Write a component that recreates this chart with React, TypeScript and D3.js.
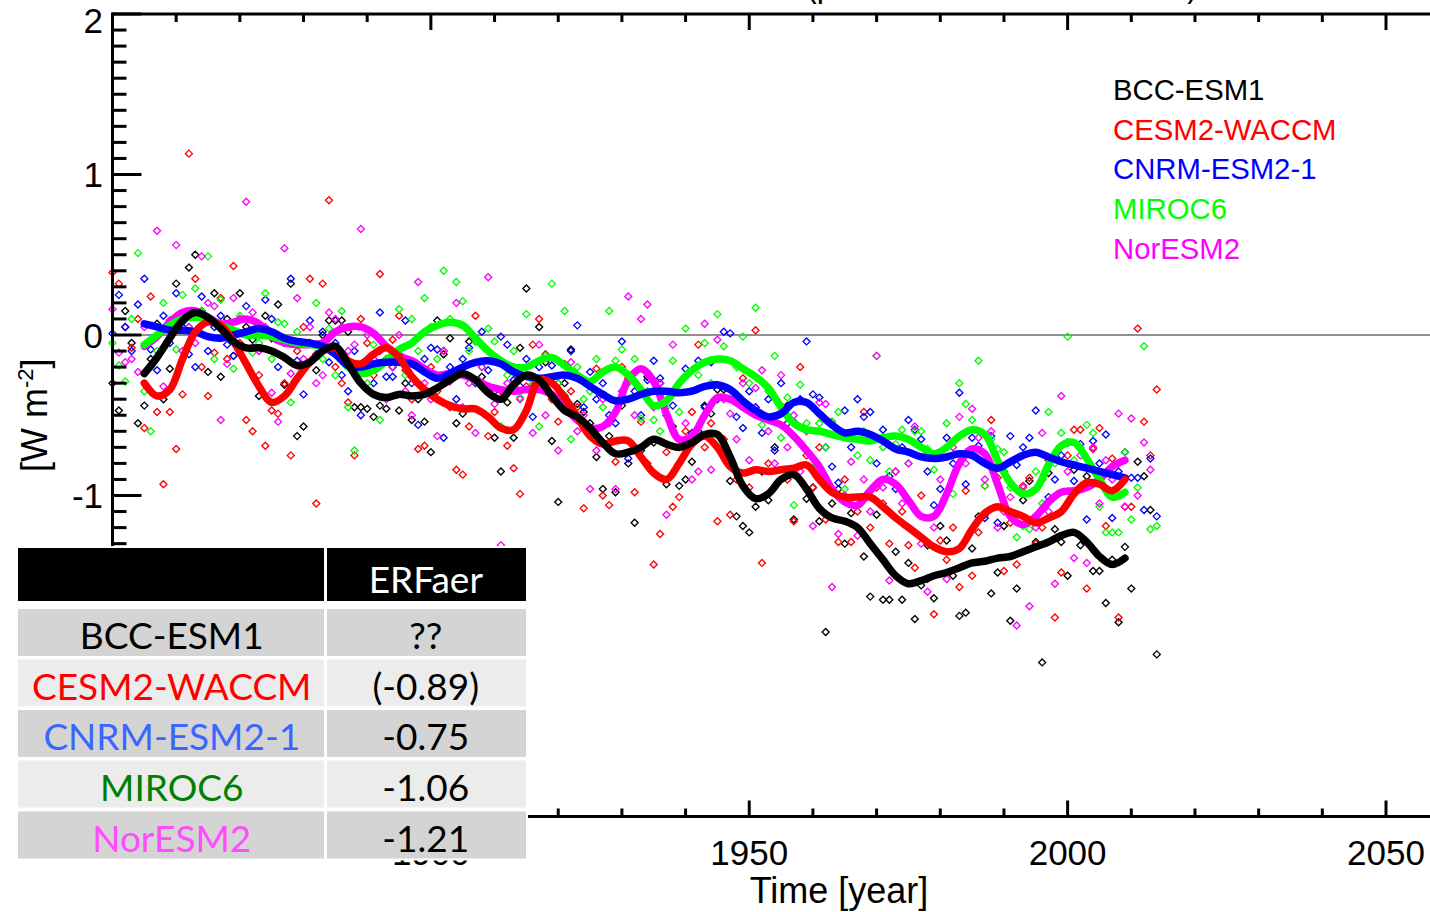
import React from "react";
import * as d3 from "d3";

const W = 1430;
const H = 912;

// Models, their plot colours and the ERFaer table
const modelNames = ["BCC-ESM1", "CESM2-WACCM", "CNRM-ESM2-1", "MIROC6", "NorESM2"];
const lineColors = ["#000000", "#ff0000", "#0000ff", "#00ff00", "#ff00ff"];
const tableTextColors = ["#000000", "#ff0000", "#3a66ff", "#008000", "#ff4cff"];
const erfaerLabels = ["??", "(-0.89)", "-0.75", "-1.06", "-1.21"];

// Annual values, 1850 .. 2014 (W m-2)
const annualStartYear = 1850;
const bccAnnual = [
  -0.30, -0.47, 0.15, -0.05, -0.55, -0.44, -0.15, 0.07, -0.40, -0.21,
  0.32, 0.05, 0.42, 0.50, 0.15, -0.23, 0.26, -0.26, 0.10, -0.13,
  0.26, 0.05, -0.03, -0.38, 0.12, -0.02, 0.19, -0.31, 0.32, -0.63,
  -0.57, -0.05, -0.22, 0.00, 0.09, 0.09, 0.09, 0.02, -0.45, -0.45,
  -0.46, -0.51, -0.44, -0.46, -0.20, -0.47, -0.30, -0.53, -0.40, -0.54,
  -0.73, 0.09, -0.12, -0.02, -0.55, -0.49, -0.04, -0.04, -0.26, -0.35,
  -0.64, -0.85, -0.42, -0.64, -0.08, 0.29, -0.32, 0.05, -0.17, -0.66,
  -1.04, -0.30, -0.09, -0.43, -0.48, -0.55, -0.76, -0.96, -0.63, -0.98,
  -0.44, -0.80, -1.17, -0.72, -0.26, -0.67, -0.30, -0.93, -0.57, -0.94,
  -0.90, -0.79, -0.60, -0.44, -0.49, -0.34, -0.34, -0.91, -1.13, -1.19,
  -1.23, -1.07, -0.85, -1.03, -0.70, -0.49, -0.44, -1.15, -0.41, -1.02,
  -0.95, -1.16, -1.85, -1.05, -0.96, -1.30, -1.11, -1.20, -1.38, -1.63,
  -1.12, -1.65, -1.65, -1.35, -1.65, -1.42, -1.77, -1.56, -1.31, -1.64,
  -1.19, -1.28, -1.50, -1.75, -1.73, -1.33, -1.13, -1.12, -1.61, -1.48,
  -1.19, -1.78, -1.58, -1.03, -0.91, -1.29, -2.04, -0.86, -1.21, -1.29,
  -1.50, -0.84, -1.31, -0.88, -1.47, -1.47, -1.67, -1.40, -1.79, -1.32,
  -1.58, -0.79, -0.88, -1.09, -1.99,
];
const cesmAnnual = [
  0.39, 0.32, 0.05, -0.08, 0.10, -0.58, 0.24, -0.48, -0.93, -0.48,
  -0.71, -0.37, 1.13, 0.35, -0.20, -0.38, -0.11, 0.23, -0.15, 0.43,
  -0.05, -0.53, -0.60, -0.25, -0.69, -0.47, -0.49, -0.30, -0.75, -0.10,
  0.05, 0.35, -1.05, 0.32, 0.84, -0.20, -0.30, -0.42, -0.75, 0.10,
  -0.05, -0.25, 0.38, -0.15, -0.03, 0.12, -0.22, -0.40, -0.71, -0.69,
  -0.20, -0.35, -0.10, -0.45, -0.84, -0.87, -0.57, 0.12, -0.30, -0.63,
  -0.48, -0.35, -0.69, -0.83, -0.99, -0.32, -0.06, 0.10, -0.12, -0.40,
  -0.54, -0.18, -0.35, -0.45, -1.08, -0.60, -0.21, -1.00, -1.06, -0.79,
  -0.20, -0.27, -0.98, -0.54, -0.80, -1.43, -1.24, -0.73, -1.07, -1.01,
  -0.60, -0.48, -0.06, -0.70, -0.55, -1.16, -0.65, -1.12, -0.90, -0.27,
  -0.95, 0.03, -1.42, -0.80, -0.95, -0.44, -0.90, -1.16, -0.20, -0.75,
  -0.95, -0.70, -1.15, -0.54, -1.29, -0.90, -1.29, -1.10, -0.48, -1.20,
  -0.95, -1.05, -1.30, -0.85, -1.10, -1.31, -1.45, -1.00, -1.52, -1.74,
  -1.28, -1.40, -1.20, -1.57, -0.97, -1.50, -1.23, -0.94, -0.53, -0.89,
  -1.47, -1.17, -1.43, -0.94, -0.89, -1.30, -1.20, -0.78, -1.76, -1.48,
  -0.75, -0.59, -0.59, -1.58, -0.71, -0.58, -1.19, -0.77, -1.76, -1.07,
  -1.07, 0.04, -0.54, -0.75, -0.34,
];
const cnrmAnnual = [
  0.01, 0.25, 0.05, -0.10, 0.19, 0.35, -0.09, -0.22, 0.12, -0.05,
  0.26, 0.08, -0.12, -0.20, 0.24, -0.10, 0.05, 0.12, -0.06, -0.13,
  0.10, 0.18, -0.08, 0.03, 0.22, 0.10, -0.20, -0.05, 0.35, -0.16,
  -0.37, 0.09, -0.12, 0.02, -0.17, -0.05, -0.25, -0.35, -0.10, -0.50,
  -0.20, -0.30, 0.14, -0.26, -0.26, -0.12, 0.09, -0.30, -0.56, -0.15,
  -0.08, -0.09, -0.64, -0.20, -0.40, -0.15, -0.08, -0.30, 0.02, -0.22,
  -0.35, -0.01, -0.06, -0.28, -0.32, -0.15, -0.51, -0.20, -0.35, -0.19,
  -0.30, -0.38, -0.10, 0.06, -0.45, -0.23, -0.40, -0.30, -0.50, -0.55,
  -0.04, -0.77, -0.35, -0.50, -0.28, -0.16, -0.27, -0.50, -0.44, -0.30,
  -0.21, -0.61, -0.16, -0.45, -0.17, -0.40, 0.02, 0.01, -0.51, -0.58,
  -0.35, -0.45, -0.61, -0.40, -0.72, -0.30, -0.55, -0.54, -0.40, -0.04,
  -0.37, -0.39, -0.70, -0.82, -0.92, -0.47, -0.70, -0.40, -0.51, -0.48,
  -0.80, -0.59, -0.88, -0.96, -0.70, -0.53, -0.59, -0.65, -0.85, -1.06,
  -0.96, -0.64, -0.80, -0.36, -0.93, -0.64, -0.69, -1.14, -0.63, -1.17,
  -0.85, -0.63, -0.81, -0.70, -0.64, -0.47, -0.90, -1.01, -0.90, -0.75,
  -0.67, -0.91, -0.68, -1.15, -0.66, -0.80, -0.62, -1.14, -0.85, -0.73,
  -0.89, -0.89, -1.09, -0.77, -1.13,
];
const mirocAnnual = [
  -0.05, -0.19, -0.29, 0.10, 0.51, -0.35, -0.60, -0.10, 0.20, 0.09,
  -0.09, 0.25, 0.05, 0.29, 0.15, 0.49, -0.15, 0.22, 0.05, -0.21,
  0.12, 0.02, -0.11, -0.05, 0.26, -0.15, 0.08, 0.07, -0.42, 0.02,
  -0.20, -0.05, 0.20, -0.15, 0.04, -0.25, 0.15, -0.45, -0.72, -0.20,
  -0.30, -0.06, -0.53, -0.15, -0.20, 0.16, -0.25, 0.10, -0.10, 0.23,
  0.05, -0.15, 0.40, 0.10, 0.33, 0.21, -0.10, -0.04, -0.20, 0.04,
  -0.04, -0.57, -0.25, -0.10, -0.39, 0.13, -0.30, -0.57, -0.13, 0.32,
  -0.30, 0.15, -0.65, -0.20, -0.40, -0.35, -0.15, -0.45, 0.15, -0.16,
  -0.09, -0.30, -0.15, -0.52, -0.35, -0.53, -0.60, -0.45, -0.16, -0.48,
  0.04, -0.35, -0.25, -0.05, -0.30, 0.13, -0.07, -0.40, -0.20, -0.01,
  -0.30, 0.17, -0.56, -0.35, -0.13, -0.64, -0.39, -1.06, -0.31, -0.55,
  -0.83, -0.55, -0.70, -0.54, -0.48, -0.96, -0.62, -0.75, -0.60, -0.78,
  -0.13, -0.70, -0.85, -0.68, -0.59, -0.80, -0.60, -0.60, -0.71, -0.84,
  -1.08, -0.55, -0.99, -0.30, -0.43, -0.53, -0.16, -0.94, -0.65, -0.71,
  -0.73, -0.95, -1.26, -1.19, -1.21, -0.85, -1.05, -0.48, -0.80, -0.61,
  -0.01, -0.78, -0.70, -0.56, -0.61, -1.07, -1.23, -1.23, -1.23, -0.73,
  -1.15, -0.95, -0.07, -1.21, -1.19,
];
const norAnnual = [
  0.16, -0.11, -0.17, -0.15, -0.23, 0.05, -0.20, 0.65, -0.32, 0.09,
  0.56, -0.10, 0.05, -0.05, 0.49, 0.20, 0.18, -0.53, -0.18, 0.23,
  0.10, 0.83, 0.14, -0.10, 0.05, -0.36, -0.54, 0.54, -0.24, 0.23,
  -0.15, 0.05, -0.30, -0.25, 0.14, 0.10, 0.05, -0.10, -0.06, 0.66,
  0.00, -0.15, -0.10, -0.40, -0.20, 0.00, -0.35, -0.50, 0.33, -0.30,
  -0.40, -0.63, -0.10, -0.29, 0.20, -0.45, -0.30, -0.61, -0.20, 0.36,
  -0.43, -1.31, -0.30, -0.20, -0.40, -0.25, -0.61, -0.06, -0.50, -0.30,
  -0.72, -0.40, -0.17, -0.60, -0.50, -0.96, -0.72, -0.40, -0.55, -0.96,
  -0.35, 0.24, -0.50, 0.10, 0.19, -0.45, -0.30, -1.12, -0.06, -0.70,
  -0.55, -0.90, -0.85, 0.07, -0.84, -0.03, -0.40, -0.49, -0.65, -0.30,
  -0.78, -0.33, -0.22, -0.60, -0.80, -0.25, -0.70, -0.50, -0.85, -0.60,
  -1.19, -0.42, -0.43, -1.57, -1.24, -1.00, -0.79, -1.25, -0.90, -1.10,
  -0.13, -0.95, -1.53, -0.85, -1.05, -0.80, -0.57, -1.30, -1.60, -1.20,
  -0.90, -1.52, -0.70, -0.51, -0.80, -0.46, -0.64, -0.90, -0.60, -1.20,
  -1.10, -1.01, -1.81, -0.95, -1.69, -1.20, -0.61, -1.10, -1.55, -0.38,
  -0.85, -1.39, -0.75, -1.42, -0.70, -1.05, -0.78, -0.90, -0.49, -1.07,
  -0.52, -1.00, -0.67, -0.84, null,
];

// Running-mean curves, sampled every 2 years from 1855 to 2009
const smoothStartYear = 1855;
const smoothStep = 2;
const bccSmooth = [
  -0.24, -0.14, -0.02, 0.09, 0.14, 0.11, 0.04, -0.04, -0.08, -0.08,
  -0.10, -0.14, -0.19, -0.17, -0.10, -0.07, -0.18, -0.30, -0.37, -0.39,
  -0.37, -0.38, -0.37, -0.33, -0.28, -0.24, -0.28, -0.36, -0.40, -0.31,
  -0.25, -0.28, -0.38, -0.47, -0.51, -0.58, -0.67, -0.74, -0.73, -0.70,
  -0.65, -0.68, -0.70, -0.67, -0.62, -0.62, -0.76, -0.94, -1.02, -0.99,
  -0.90, -0.87, -0.96, -1.08, -1.14, -1.16, -1.20, -1.30, -1.40, -1.50,
  -1.55, -1.53, -1.50, -1.48, -1.45, -1.42, -1.41, -1.39, -1.38, -1.35,
  -1.32, -1.29, -1.25, -1.23, -1.29, -1.38, -1.43, -1.39,
];
const cesmSmooth = [
  -0.30, -0.38, -0.34, -0.15, 0.02, 0.08, 0.06, -0.04, -0.18, -0.32,
  -0.42, -0.38, -0.27, -0.17, -0.10, -0.08, -0.16, -0.18, -0.12, -0.08,
  -0.14, -0.26, -0.34, -0.40, -0.44, -0.46, -0.46, -0.51, -0.58, -0.59,
  -0.47, -0.28, -0.30, -0.39, -0.51, -0.63, -0.68, -0.66, -0.66, -0.76,
  -0.86, -0.90, -0.80, -0.68, -0.63, -0.70, -0.82, -0.86, -0.84, -0.85,
  -0.84, -0.83, -0.81, -0.90, -0.98, -1.01, -1.01, -1.01, -1.07, -1.14,
  -1.20, -1.26, -1.32, -1.35, -1.33, -1.21, -1.11, -1.07, -1.10, -1.13,
  -1.17, -1.14, -1.10, -0.99, -0.92, -0.93, -0.97, -0.90,
];
const cnrmSmooth = [
  0.07, 0.05, 0.03, 0.03, 0.02, -0.01, -0.02, 0.00, 0.02, 0.04,
  0.02, -0.02, -0.04, -0.05, -0.07, -0.12, -0.19, -0.20, -0.18, -0.17,
  -0.17, -0.18, -0.23, -0.27, -0.24, -0.20, -0.17, -0.16, -0.18, -0.23,
  -0.26, -0.27, -0.26, -0.25, -0.27, -0.32, -0.37, -0.41, -0.40, -0.37,
  -0.35, -0.35, -0.36, -0.35, -0.32, -0.31, -0.34, -0.41, -0.47, -0.51,
  -0.49, -0.42, -0.42, -0.49, -0.56, -0.61, -0.60, -0.62, -0.66, -0.71,
  -0.73, -0.76, -0.77, -0.76, -0.74, -0.75, -0.80, -0.83, -0.79, -0.75,
  -0.73, -0.76, -0.79, -0.81, -0.83, -0.85, -0.87, -0.89,
];
const mirocSmooth = [
  -0.06, 0.00, 0.06, 0.10, 0.11, 0.10, 0.06, 0.03, 0.00, 0.00,
  -0.01, -0.03, -0.05, -0.06, -0.07, -0.11, -0.20, -0.24, -0.22, -0.16,
  -0.09, -0.05, 0.02, 0.06, 0.08, 0.06, -0.02, -0.10, -0.16, -0.20,
  -0.20, -0.16, -0.14, -0.19, -0.25, -0.29, -0.23, -0.20, -0.25, -0.34,
  -0.44, -0.41, -0.30, -0.22, -0.17, -0.15, -0.16, -0.21, -0.26, -0.33,
  -0.45, -0.55, -0.59, -0.60, -0.62, -0.64, -0.65, -0.66, -0.64, -0.63,
  -0.65, -0.70, -0.74, -0.70, -0.63, -0.59, -0.62, -0.78, -0.92, -0.99,
  -0.96, -0.81, -0.69, -0.67, -0.77, -0.90, -1.01, -0.98,
];
const norSmooth = [
  -0.07, -0.01, 0.08, 0.14, 0.15, 0.11, 0.07, 0.08, 0.10, 0.07,
  -0.01, -0.05, -0.06, -0.06, -0.05, 0.02, 0.05, 0.05, 0.01, -0.07,
  -0.13, -0.16, -0.21, -0.25, -0.24, -0.25, -0.28, -0.32, -0.34, -0.35,
  -0.34, -0.34, -0.37, -0.45, -0.53, -0.58, -0.57, -0.48, -0.28, -0.21,
  -0.29, -0.49, -0.65, -0.63, -0.50, -0.39, -0.40, -0.45, -0.50, -0.53,
  -0.56, -0.63, -0.72, -0.82, -0.96, -1.04, -1.06, -0.97, -0.90, -0.93,
  -1.03, -1.13, -1.13, -0.99, -0.80, -0.71, -0.74, -0.93, -1.13, -1.18,
  -1.13, -1.04, -0.98, -0.97, -0.95, -0.90, -0.82, -0.78,
];

// Axis tick labels
const xMajorLabels = [1900, 1950, 2000, 2050];
const yMajorLabels = [2, 1, 0, -1, -2, -3];

const FONT = "'Liberation Sans', Arial, Helvetica, sans-serif";
const TABLE_FONT = "Lato, 'Open Sans', sans-serif";

export default function App() {
  const x = d3.scaleLinear().domain([1850, 2050]).range([112.5, 1386]);
  const y = d3.scaleLinear().domain([-3, 2]).range([816.5, 14]);

  const annual = [bccAnnual, cesmAnnual, cnrmAnnual, mirocAnnual, norAnnual];
  const smooth = [bccSmooth, cesmSmooth, cnrmSmooth, mirocSmooth, norSmooth];

  const series = modelNames.map((name, i) => ({
    name,
    color: lineColors[i],
    points: annual[i]
      .map((v, k) => [annualStartYear + k, v] as [number, number | null])
      .filter((d) => d[1] !== null) as [number, number][],
    curve: smooth[i].map((v, k) => [smoothStartYear + k * smoothStep, v] as [number, number]),
  }));

  const line = d3
    .line<[number, number]>()
    .x((d) => x(d[0]))
    .y((d) => y(d[1]))
    .curve(d3.curveCatmullRom.alpha(0.5));

  const diamond = "M0,-3.5L3.5,0L0,3.5L-3.5,0Z";

  const xTicks = d3.range(1850, 2060, 10).filter((t) => x(t) <= W);
  const yTicks = d3.range(-30, 21).map((v) => v / 10);

  const x0 = x(1850);
  const yTop = y(2);
  const yBot = y(-3);

  // draw order of the thick curves: black on top
  const curveOrder = [4, 3, 2, 1, 0];

  // ERFaer table geometry
  const tblLeft = 18;
  const tblMid = 325.5;
  const tblRight = 526;
  const headTop = 548;
  const headBottom = 601;
  const rowTops = [609, 659.5, 710, 760.5, 811.5];
  const rowH = 47;

  return (
    <svg
      width={W}
      height={H}
      viewBox={`0 0 ${W} ${H}`}
      style={{ position: "absolute", left: 0, top: 0, background: "#fff" }}
    >
      <rect x={0} y={0} width={W} height={H} fill="#fff" />

      {/* plot title, running above the top edge */}
      <text
        x={1002}
        y={-4}
        textAnchor="middle"
        fontFamily={FONT}
        fontSize={36}
        fill="#000"
        textLength={392}
        lengthAdjust="spacingAndGlyphs"
      >
        (perturbation minus control)
      </text>

      {/* zero reference line */}
      <line x1={x0} x2={W} y1={y(0)} y2={y(0)} stroke="#6a6a6a" strokeWidth={1.6} />

      {/* annual values */}
      {series.map((s) => (
        <g key={s.name + "-pts"}>
          {s.points.map((d) => (
            <path
              key={d[0]}
              d={diamond}
              transform={`translate(${x(d[0])},${y(d[1])})`}
              fill="none"
              stroke={s.color}
              strokeWidth={1.35}
            />
          ))}
        </g>
      ))}

      {/* running means */}
      {curveOrder.map((i) => (
        <path
          key={series[i].name + "-curve"}
          d={line(series[i].curve) || ""}
          fill="none"
          stroke={series[i].color}
          strokeWidth={7.5}
          strokeLinejoin="round"
          strokeLinecap="round"
        />
      ))}

      {/* frame */}
      <g stroke="#000" strokeWidth={3} fill="none">
        <line x1={x0} x2={W} y1={yTop} y2={yTop} />
        <line x1={x0} x2={W} y1={yBot} y2={yBot} />
        <line x1={x0} x2={x0} y1={yTop - 1.5} y2={yBot + 1.5} />
      </g>

      {/* x ticks, top and bottom */}
      <g stroke="#000" strokeWidth={3}>
        {xTicks.map((t) => {
          const len = t % 50 === 0 ? 16 : 8;
          return (
            <g key={"xt" + t}>
              <line x1={x(t)} x2={x(t)} y1={yTop} y2={yTop + len} />
              <line x1={x(t)} x2={x(t)} y1={yBot} y2={yBot - len} />
            </g>
          );
        })}
      </g>

      {/* y ticks */}
      <g stroke="#000" strokeWidth={3}>
        {yTicks.map((t) => {
          const major = Math.abs(t - Math.round(t)) < 1e-6;
          return <line key={"yt" + t} x1={x0} x2={x0 + (major ? 29 : 14)} y1={y(t)} y2={y(t)} />;
        })}
      </g>

      {/* tick labels */}
      <g fontFamily={FONT} fontSize={35} fill="#000">
        {xMajorLabels.map((t) => (
          <text key={"xl" + t} x={x(t)} y={865} textAnchor="middle">
            {t}
          </text>
        ))}
        {yMajorLabels.map((t) => (
          <text key={"yl" + t} x={103} y={Math.max(y(t) + 12.5, 33)} textAnchor="end">
            {t}
          </text>
        ))}
      </g>

      {/* axis titles */}
      <text x={839} y={903} textAnchor="middle" fontFamily={FONT} fontSize={36} fill="#000">
        Time [year]
      </text>
      <text
        transform={`translate(47,${y(-0.5)}) rotate(-90)`}
        textAnchor="middle"
        fontFamily={FONT}
        fontSize={36}
        fill="#000"
      >
        [W m
        <tspan fontSize={22} dy={-14}>-2</tspan>
        <tspan dy={14}>]</tspan>
      </text>

      {/* legend */}
      <g fontFamily={FONT} fontSize={29.3}>
        {modelNames.map((n, i) => (
          <text key={"lg" + n} x={1113} y={100 + i * 39.7} fill={lineColors[i]}>
            {n}
          </text>
        ))}
      </g>

      {/* ERFaer table */}
      <g>
        <rect x={tblLeft - 2} y={headTop - 2} width={tblRight - tblLeft + 4} height={rowTops[4] + rowH - headTop + 4} fill="#fff" />
        <rect x={tblLeft} y={headTop} width={tblMid - 1.5 - tblLeft} height={headBottom - headTop} fill="#000" />
        <rect x={tblMid + 1.5} y={headTop} width={tblRight - tblMid - 1.5} height={headBottom - headTop} fill="#000" />
        <text
          x={(tblMid + tblRight) / 2}
          y={592.5}
          textAnchor="middle"
          fontFamily={TABLE_FONT}
          fontSize={37}
          fill="#fff"
        >
          ERFaer
        </text>
        {modelNames.map((n, i) => {
          const top = rowTops[i];
          const bg = i % 2 === 0 ? "#d4d4d4" : "#ececec";
          return (
            <g key={"row" + n}>
              <rect x={tblLeft} y={top} width={tblMid - 1.5 - tblLeft} height={rowH} fill={bg} />
              <rect x={tblMid + 1.5} y={top} width={tblRight - tblMid - 1.5} height={rowH} fill={bg} />
              <text
                x={(tblLeft + tblMid) / 2}
                y={top + 40}
                textAnchor="middle"
                fontFamily={TABLE_FONT}
                fontSize={37}
                fill={tableTextColors[i]}
              >
                {n}
              </text>
              <text
                x={(tblMid + tblRight) / 2}
                y={top + 40}
                textAnchor="middle"
                fontFamily={TABLE_FONT}
                fontSize={37}
                fill="#000"
              >
                {erfaerLabels[i]}
              </text>
            </g>
          );
        })}
      </g>
    </svg>
  );
}
